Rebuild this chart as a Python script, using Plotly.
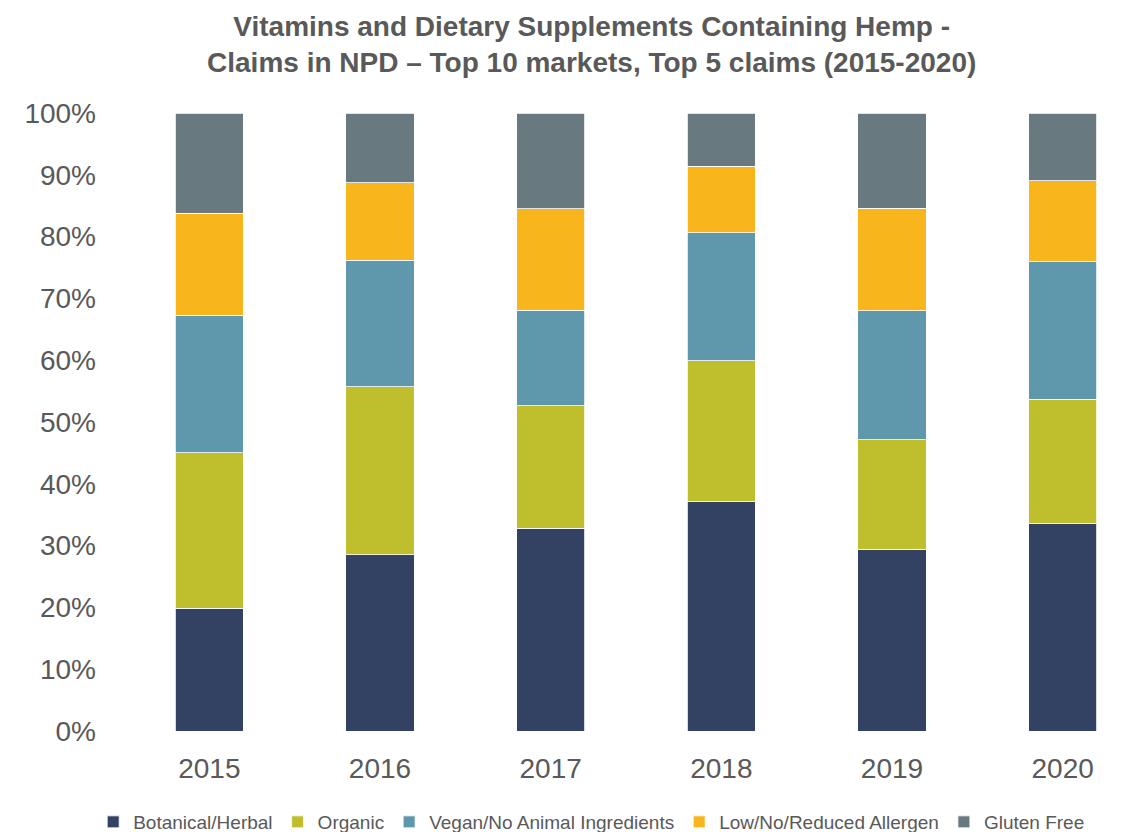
import plotly.graph_objects as go

years = ["2015", "2016", "2017", "2018", "2019", "2020"]

botanical = [19.9, 28.5, 32.8, 37.1, 29.4, 33.5]
organic = [25.1, 27.2, 19.8, 22.8, 17.7, 20.2]
vegan = [22.3, 20.5, 15.5, 20.7, 20.9, 22.2]
allergen = [16.5, 12.5, 16.4, 10.8, 16.6, 13.1]
gluten_free = [16.2, 11.3, 15.5, 8.6, 15.4, 11.0]

series = [
    ("Botanical/Herbal", botanical, "#334163"),
    ("Organic", organic, "#BFBF2E"),
    ("Vegan/No Animal Ingredients", vegan, "#5F98AD"),
    ("Low/No/Reduced Allergen", allergen, "#F9B51C"),
    ("Gluten Free", gluten_free, "#687A80"),
]

fig = go.Figure()
for name, vals, color in series:
    fig.add_trace(go.Bar(
        x=years, y=[v / 100 for v in vals], name=name,
        marker=dict(color=color, line=dict(color="white", width=0.8)),
    ))

grey = "#595959"
W, H = 1140, 824  # page body adds an 8px margin
fig.update_layout(
    barmode="stack",
    bargap=0.6,
    width=W, height=H,
    margin=dict(l=116, r=0, t=105, b=101, autoexpand=False),
    paper_bgcolor="white", plot_bgcolor="white",
    font=dict(family="Liberation Sans, Arial, sans-serif", color=grey),
    title=dict(
        text="<b>Vitamins and Dietary Supplements Containing Hemp -<br>"
             "Claims in NPD – Top 10 markets, Top 5 claims (2015-2020)</b>",
        x=0.512, xref="container", xanchor="center",
        y=1 - 27.5 / H, yref="container", yanchor="middle",
        font=dict(size=28, color=grey),
    ),
    xaxis=dict(tickfont=dict(size=28, color=grey), showline=False,
               ticks="", showgrid=False, automargin=False,
               ticklabelstandoff=18),
    yaxis=dict(range=[0, 1], tickformat=".0%", dtick=0.1,
               tickfont=dict(size=28, color=grey), showgrid=False,
               zeroline=False, ticklabelstandoff=27, automargin=False),
    legend=dict(orientation="h", x=0.512, xref="container", xanchor="center",
                y=10 / H, yref="container", yanchor="middle",
                font=dict(size=19, color=grey),
                itemwidth=30, traceorder="normal"),
)

fig.write_html("out.html")
